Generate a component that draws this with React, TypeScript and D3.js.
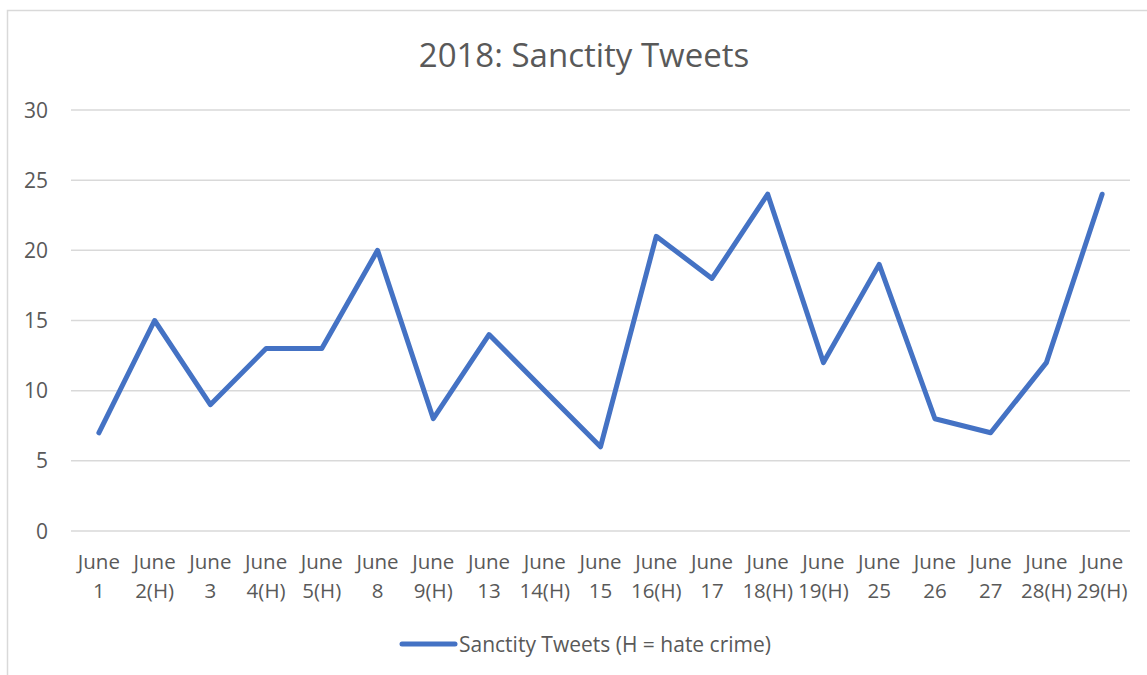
import React from "react";
import * as d3 from "d3";

const categories: string[][] = [
  ["June", "1"], ["June", "2(H)"], ["June", "3"], ["June", "4(H)"], ["June", "5(H)"],
  ["June", "8"], ["June", "9(H)"], ["June", "13"], ["June", "14(H)"], ["June", "15"],
  ["June", "16(H)"], ["June", "17"], ["June", "18(H)"], ["June", "19(H)"], ["June", "25"],
  ["June", "26"], ["June", "27"], ["June", "28(H)"], ["June", "29(H)"],
];
const values: number[] = [7, 15, 9, 13, 13, 20, 8, 14, 10, 6, 21, 18, 24, 12, 19, 8, 7, 12, 24];
const yTicks: number[] = [0, 5, 10, 15, 20, 25, 30];
const title = "2018: Sanctity Tweets";
const seriesName = "Sanctity Tweets (H = hate crime)";

const W = 1147, H = 675;
const FONT = "'Open Sans', sans-serif";
const TEXT = "#595959";
const BLUE = "#4472C4";

export default function App() {
  const left = 71, right = 1130, top = 110, bottom = 531;
  const x = d3.scaleBand<number>().domain(d3.range(categories.length)).range([left, right]);
  const y = d3.scaleLinear().domain([0, 30]).range([bottom, top]);
  const line = d3.line<number>()
    .x((_, i) => (x(i) as number) + x.bandwidth() / 2)
    .y((d) => y(d));
  return (
    <svg width={W} height={H} style={{ position: "absolute", left: 0, top: 0, background: "#fff" }}>
      <rect x={0} y={0} width={W} height={H} fill="#fff" />
      <path d={`M7.5,${H} V10.5 H${W}`} fill="none" stroke="#d9d9d9" strokeWidth={1.5} />
      <text x={584} y={67} textAnchor="middle" fontFamily={FONT} fontSize={33} fill={TEXT}>{title}</text>
      {yTicks.map((t) => (
        <g key={t}>
          <line x1={left} x2={right} y1={y(t)} y2={y(t)} stroke="#d9d9d9" strokeWidth={1.5} />
          <text x={48} y={y(t)} dy="0.36em" textAnchor="end" fontFamily={FONT} fontSize={21} fill={TEXT}>{t}</text>
        </g>
      ))}
      {categories.map((c, i) => (
        <text key={i} x={(x(i) as number) + x.bandwidth() / 2} y={569} textAnchor="middle" fontFamily={FONT} fontSize={20.5} fill={TEXT}>
          <tspan x={(x(i) as number) + x.bandwidth() / 2}>{c[0]}</tspan>
          <tspan x={(x(i) as number) + x.bandwidth() / 2} dy={29}>{c[1]}</tspan>
        </text>
      ))}
      <path d={line(values) as string} fill="none" stroke={BLUE} strokeWidth={5} strokeLinejoin="round" strokeLinecap="round" />
      <line x1={402} x2={455} y1={644} y2={644} stroke={BLUE} strokeWidth={5} strokeLinecap="round" />
      <text x={459} y={644} dy="0.36em" fontFamily={FONT} fontSize={21} fill={TEXT}>{seriesName}</text>
    </svg>
  );
}
